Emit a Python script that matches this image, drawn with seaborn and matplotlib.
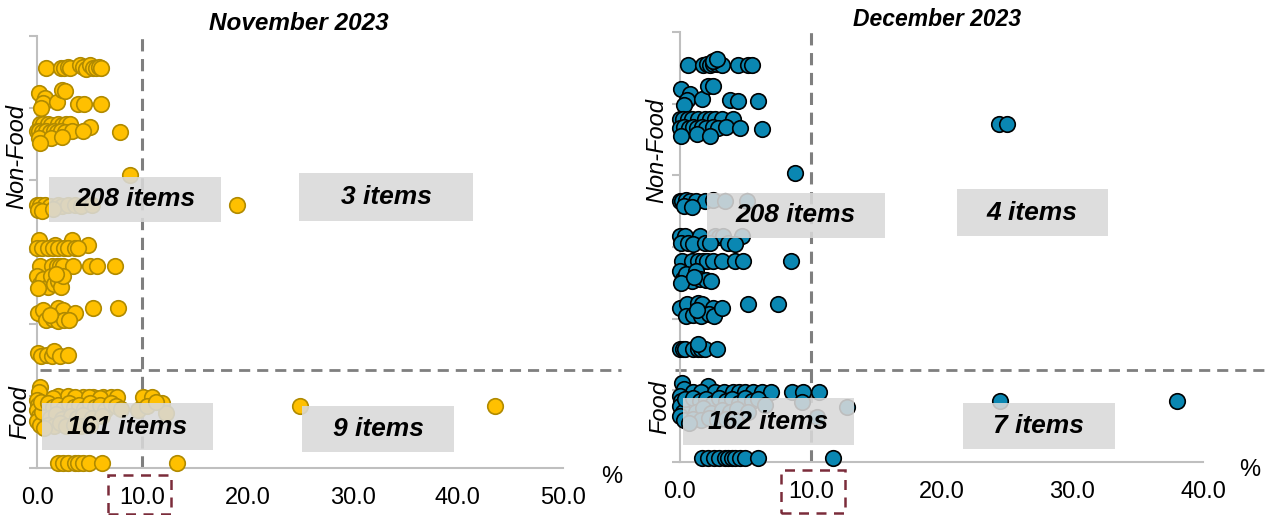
import matplotlib
matplotlib.use("Agg")
import matplotlib.pyplot as plt
from matplotlib.patches import Rectangle
import pandas as pd
import seaborn as sns

# ---- November 2023 (x = %, y = row position) ----
nov_nonfood_x = [0.83, 2.3, 2.6, 2.9, 3.1, 4.1, 4.4, 4.7, 5.0, 5.3, 5.6, 5.9, 6.1,
                 0.19, 0.76, 0.6, 1.87, 2.35, 2.66, 3.93, 4.5, 6.08, 0.4,
                 0.3, 0.6, 1.0, 1.3, 2.0, 2.4, 2.8, 3.1, 5.0,
                 0.0, 0.2, 0.5, 0.9, 1.2, 1.6, 1.9, 2.3, 2.7, 3.3, 4.4, 7.89,
                 0.2, 1.3, 2.4, 0.3,
                 8.87,
                 0.0, 0.3, 0.76, 1.2, 2.0, 2.4, 2.9, 3.6, 4.2, 5.2, 19.0, 0.1, 0.5, 1.5,
                 0.19, 1.71, 3.3, 4.88, 0.0, 0.5, 1.08, 1.5, 2.03, 2.6, 2.98, 3.6, 3.93,
                 0.29, 1.4, 1.87, 2.19, 2.5, 3.45, 5.04, 5.67, 7.41,
                 0.0, 0.3, 0.6, 1.0, 1.3, 1.6, 2.0, 2.3, 2.5, 0.1, 1.8,
                 0.13, 0.6, 2.03, 2.5, 3.6, 5.35, 7.67, 0.9, 1.5, 2.0, 2.6, 3.0, 1.2,
                 0.06, 0.4, 0.92, 1.4, 1.65, 2.19, 2.92]
nov_nonfood_y = [5.56, 5.56, 5.55, 5.57, 5.55, 5.6, 5.57, 5.54, 5.6, 5.56, 5.55, 5.57, 5.56,
                 5.21, 5.14, 5.07, 5.09, 5.25, 5.24, 5.05, 5.05, 5.05, 5.0,
                 4.78, 4.78, 4.78, 4.77, 4.78, 4.77, 4.78, 4.78, 4.74,
                 4.68, 4.68, 4.67, 4.68, 4.66, 4.68, 4.67, 4.68, 4.66, 4.68, 4.68, 4.67,
                 4.58, 4.58, 4.6, 4.52,
                 4.07,
                 3.65, 3.65, 3.65, 3.64, 3.65, 3.64, 3.65, 3.65, 3.64, 3.65, 3.65, 3.58, 3.57, 3.6,
                 3.17, 3.1, 3.17, 3.1, 3.06, 3.06, 3.06, 3.05, 3.06, 3.06, 3.06, 3.06, 3.06,
                 2.8, 2.8, 2.8, 2.8, 2.8, 2.8, 2.8, 2.8, 2.8,
                 2.66, 2.55, 2.62, 2.52, 2.66, 2.55, 2.6, 2.52, 2.66, 2.5, 2.7,
                 2.15, 2.2, 2.22, 2.2, 2.15, 2.22, 2.22, 2.05, 2.07, 2.04, 2.06, 2.06, 2.12,
                 1.6, 1.56, 1.57, 1.55, 1.62, 1.56, 1.57]

nov_food_x = [0.29, 0.2, 2.03, 2.98, 4.4, 5.35, 6.3, 7.0, 7.57, 10.1, 10.9, 11.9, 12.3, 9.6,
              3.6, 4.9, 6.0, 1.5, 10.5, 11.3,
              0.0, 0.1, 0.0, 0.15, 0.0, 0.3, 0.5, 0.4,
              1.0, 1.5, 2.0, 2.5, 3.0, 3.5, 4.0, 4.5, 5.0, 5.5, 6.0, 6.5, 7.0, 7.5,
              1.2, 1.8, 2.4, 3.2, 3.8, 4.4, 5.2, 6.2, 1.0, 1.6, 2.2, 0.7, 2.8, 3.5,
              4.2, 5.0, 8.0,
              25.0, 43.5,
              2.0, 2.5, 2.9, 3.6, 3.9, 4.4, 4.9, 6.2, 13.3]
nov_food_y = [1.12, 1.05, 1.0, 1.0, 0.98, 0.98, 0.98, 0.98, 0.98, 0.98, 0.98, 0.9, 0.77, 0.81,
              0.99, 0.98, 0.97, 0.97, 0.86, 0.92,
              0.95, 0.88, 0.8, 0.72, 0.65, 0.6, 0.78, 0.92,
              0.9, 0.85, 0.88, 0.82, 0.9, 0.85, 0.88, 0.82, 0.9, 0.85, 0.88, 0.8, 0.9, 0.86,
              0.7, 0.75, 0.68, 0.72, 0.7, 0.74, 0.7, 0.72, 0.6, 0.58, 0.62, 0.55, 0.58, 0.6,
              0.58, 0.6, 0.82,
              0.86, 0.86,
              0.07, 0.07, 0.07, 0.07, 0.07, 0.07, 0.07, 0.07, 0.07]

# ---- December 2023 ----
dec_nonfood_x = [0.64, 1.78, 2.1, 2.29, 2.55, 2.8, 3.19, 4.46, 5.22, 5.48, 2.55, 2.8,
                 0.08, 0.76, 0.51, 1.66, 2.16, 2.55, 3.82, 4.46, 5.99, 0.3,
                 0.0, 0.25, 0.64, 0.89, 1.4, 1.91, 2.29, 2.68, 3.19, 4.08,
                 0.0, 0.3, 0.7, 1.0, 1.3, 1.7, 2.0, 2.5, 2.9, 3.5, 4.59, 6.25,
                 0.1, 1.3, 2.3, 24.4, 25.0,
                 8.79,
                 0.0, 0.13, 0.5, 0.76, 1.2, 1.91, 2.5, 3.44, 5.1, 0.3, 0.9,
                 0.0, 0.38, 1.53, 2.68, 3.0, 3.31, 4.72, 0.1, 0.6, 1.0, 1.9, 2.3, 3.7, 4.2,
                 0.13, 0.89, 1.4, 1.78, 2.04, 2.5, 3.19, 4.2, 4.84, 8.49,
                 0.0, 0.2, 0.5, 0.9, 1.2, 1.5, 2.0, 2.4, 0.1, 1.1,
                 0.0, 0.51, 1.4, 1.66, 2.55, 5.22, 7.52, 0.5, 1.0, 1.6, 2.2, 2.6, 1.3, 3.19,
                 0.0, 0.2, 0.38, 1.02, 1.4, 1.6, 1.91, 2.8, 1.4]
dec_nonfood_y = [5.54, 5.54, 5.55, 5.54, 5.56, 5.55, 5.54, 5.54, 5.54, 5.54, 5.6, 5.62,
                 5.2, 5.14, 5.05, 5.07, 5.24, 5.24, 5.05, 5.04, 5.04, 4.98,
                 4.78, 4.79, 4.78, 4.79, 4.78, 4.78, 4.79, 4.78, 4.78, 4.79,
                 4.66, 4.67, 4.66, 4.68, 4.66, 4.67, 4.66, 4.68, 4.66, 4.67, 4.66, 4.64,
                 4.55, 4.57, 4.55, 4.71, 4.71,
                 4.03,
                 3.64, 3.64, 3.65, 3.64, 3.64, 3.64, 3.65, 3.64, 3.64, 3.57, 3.56,
                 3.15, 3.15, 3.15, 3.15, 3.14, 3.15, 3.15, 3.05, 3.05, 3.04, 3.05, 3.05, 3.05, 3.04,
                 2.8, 2.8, 2.8, 2.8, 2.8, 2.8, 2.8, 2.8, 2.8, 2.8,
                 2.66, 2.55, 2.62, 2.53, 2.66, 2.55, 2.54, 2.53, 2.5, 2.58,
                 2.15, 2.2, 2.22, 2.2, 2.15, 2.21, 2.21, 2.04, 2.05, 2.04, 2.06, 2.04, 2.12, 2.15,
                 1.58, 1.57, 1.58, 1.58, 1.57, 1.58, 1.58, 1.58, 1.64]

dec_food_x = [0.13, 2.16, 0.3,
              1.0, 1.6, 2.7, 3.4, 4.08, 4.5, 4.97, 5.6, 6.25, 7.0, 8.54, 9.43, 10.63,
              9.3, 12.74, 10.45, 24.5, 38.0,
              0.0, 0.1, 0.0, 0.2, 0.0, 0.3, 0.4,
              1.0, 1.5, 2.0, 2.5, 3.0, 3.5, 4.0, 4.5, 5.0, 5.5, 6.0, 6.5,
              1.2, 1.8, 2.4, 3.2, 3.8, 4.4, 5.2, 1.0, 1.6, 2.2, 0.7, 2.8, 3.5, 4.2,
              1.66, 2.16, 2.6, 3.0, 3.44, 3.69, 4.0, 4.2, 4.59, 4.97, 5.99, 11.72]
dec_food_y = [1.1, 1.06, 1.02,
              0.97, 0.97, 0.98, 0.97, 0.97, 0.97, 0.97, 0.97, 0.97, 0.97, 0.97, 0.97, 0.97,
              0.84, 0.77, 0.63, 0.85, 0.85,
              0.92, 0.85, 0.78, 0.7, 0.64, 0.58, 0.88,
              0.9, 0.85, 0.88, 0.82, 0.9, 0.85, 0.88, 0.82, 0.9, 0.85, 0.88, 0.8,
              0.7, 0.75, 0.68, 0.72, 0.7, 0.74, 0.7, 0.6, 0.58, 0.62, 0.55, 0.58, 0.6, 0.58,
              0.06, 0.06, 0.06, 0.06, 0.06, 0.06, 0.06, 0.06, 0.06, 0.06, 0.06, 0.06]

nov_labels = ["208 items", "3 items", "161 items", "9 items"]
dec_labels = ["208 items", "4 items", "162 items", "7 items"]

sns.set_theme(style="white")
plt.rcParams['font.family'] = ['Liberation Sans', 'DejaVu Sans']
plt.rcParams['text.color'] = 'black'

GRID = '#7f7f7f'
SPINE = '#bfbfbf'

fig = plt.figure(figsize=(12.81, 5.15), dpi=100)
ax1 = fig.add_axes([0.0289, 0.0913, 0.4106, 0.8388])
ax2 = fig.add_axes([0.5308, 0.1029, 0.4083, 0.835])


def draw_panel(ax, xs, ys, face, edge, xmax, hline, hspan, boxes, labels):
    df = pd.DataFrame({'x': xs, 'y': ys})
    sns.scatterplot(data=df, x='x', y='y', color=face, edgecolor=edge, s=125,
                    linewidth=1.2, ax=ax, zorder=3, clip_on=False, legend=False)
    ax.axvline(10, color=GRID, lw=2.2, ls=(0, (4, 2.5)), zorder=2)
    ax.axhline(hline, xmin=hspan[0], xmax=hspan[1], color=GRID, lw=2.0,
               ls=(0, (4, 2.5)), zorder=2, clip_on=False)
    # gray count boxes
    for (x0, x1, y0, y1), lab in zip(boxes, labels):
        ax.add_patch(Rectangle((x0, y0), x1 - x0, y1 - y0, facecolor='#d9d9d9',
                               edgecolor='none', alpha=0.88, zorder=4, clip_on=False))
        ax.text((x0 + x1) / 2, (y0 + y1) / 2, lab, ha='center', va='center',
                fontsize=19, fontweight='bold', fontstyle='italic', color='black', zorder=5)
    ax.set_xlim(0, xmax)
    ax.set_ylim(0, 6)
    ticks = list(range(0, xmax + 1, 10))
    ax.set_xticks(ticks)
    ax.set_xticklabels([f"{t:.1f}" for t in ticks])
    ax.set_yticks(range(7))
    ax.set_yticklabels([])
    ax.set_xlabel('')
    ax.set_ylabel('')
    for s in ['top', 'right']:
        ax.spines[s].set_visible(False)
    for s in ['left', 'bottom']:
        ax.spines[s].set_color(SPINE)
        ax.spines[s].set_linewidth(1.5)
    ax.tick_params(axis='x', length=0, labelsize=17, pad=14, colors='black')
    ax.tick_params(axis='y', left=True, length=6, width=1.5, color=SPINE, direction='out')


nov_boxes = [(1.14, 17.49, 3.42, 4.04), (24.9, 41.44, 3.43, 4.10),
             (0.48, 16.73, 0.25, 0.90), (25.19, 39.64, 0.22, 0.86)]
dec_boxes = [(2.06, 15.67, 3.125, 3.76), (21.18, 32.72, 3.15, 3.81),
             (0.23, 13.3, 0.24, 0.89), (21.64, 33.26, 0.18, 0.83)]

draw_panel(ax1, nov_nonfood_x + nov_food_x, nov_nonfood_y + nov_food_y,
           '#FFC000', '#B08A00', 50, 1.36, (0.006, 1.11), nov_boxes, nov_labels)
draw_panel(ax2, dec_nonfood_x + dec_food_x, dec_nonfood_y + dec_food_y,
           '#0A87B2', 'black', 40, 1.28, (-0.01, 1.124), dec_boxes, dec_labels)

W, H = 1281, 515


def ftext(px, py, s, **kw):
    fig.text(px / W, 1 - py / H, s, ha='center', va='center', color='black', **kw)


ftext(299, 23, 'November 2023', fontsize=17.5, fontweight='bold', fontstyle='italic')
ftext(937, 19.5, 'December 2023', fontsize=16.5, fontweight='bold', fontstyle='italic')
ftext(17, 157, 'Non-Food', fontsize=17, fontstyle='italic', rotation=90)
ftext(20, 412, 'Food', fontsize=17, fontstyle='italic', rotation=90)
ftext(657, 151, 'Non-Food', fontsize=17, fontstyle='italic', rotation=90)
ftext(660, 407, 'Food', fontsize=17, fontstyle='italic', rotation=90)
ftext(612, 477, '%', fontsize=17)
ftext(1250, 470, '%', fontsize=17)

# dashed highlight around the 10.0 tick labels
for x0, x1, y0, y1 in [(108, 171, 475, 514), (781, 845, 470, 513)]:
    fig.add_artist(Rectangle((x0 / W, 1 - y1 / H), (x1 - x0) / W, (y1 - y0) / H,
                             transform=fig.transFigure, fill=False,
                             edgecolor='#7b2c3a', lw=1.8, ls=(0, (4, 3))))

fig.savefig('out.png', dpi=100)
